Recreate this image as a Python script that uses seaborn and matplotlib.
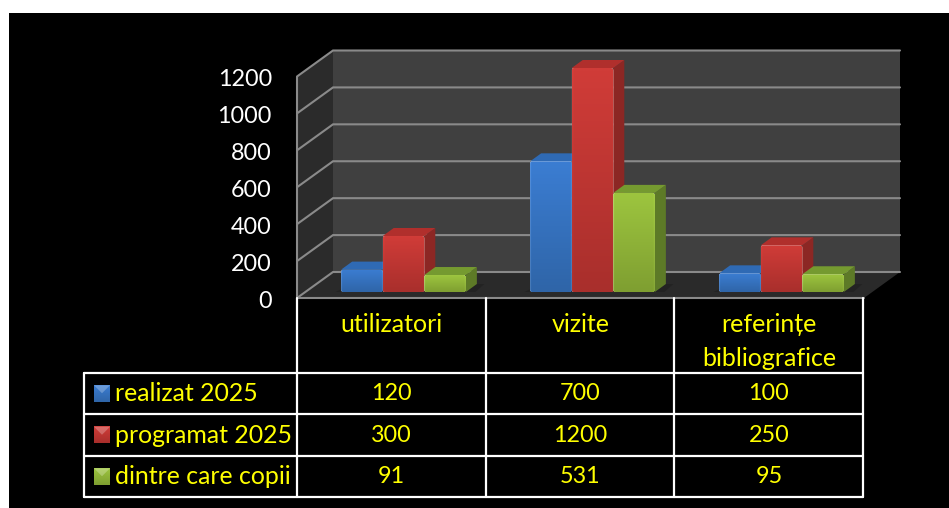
import numpy as np
import pandas as pd
import matplotlib
matplotlib.use('Agg')
import matplotlib.pyplot as plt
import seaborn as sns
from matplotlib.patches import FancyBboxPatch, Polygon, Rectangle

# data
categories = ['utilizatori', 'vizite', 'referințe\nbibliografice']
series_names = ['realizat 2025', 'programat 2025', 'dintre care copii']
realizat = [120, 700, 100]
programat = [300, 1200, 250]
copii = [91, 531, 95]
ticks = [0, 200, 400, 600, 800, 1000, 1200]

# colours: top of front, bottom of front, top face, side face
colors = {
    'realizat 2025': ('#3b7dd2', '#2f65a8', '#2f6ab4', '#2a5a9c'),
    'programat 2025': ('#d03c38', '#a92f2c', '#b02f2c', '#8c2724'),
    'dintre care copii': ('#9dc53f', '#7f9f31', '#759a30', '#5d7a27'),
}

W, H = 949, 508
sns.set_theme(style='white')
plt.rcParams['font.family'] = ['Lato', 'DejaVu Sans']

fig = plt.figure(figsize=(W / 100, H / 100), dpi=100, facecolor='white')

# background layer in pixels
bg = fig.add_axes([0, 0, 1, 1])
bg.set_xlim(0, W)
bg.set_ylim(H, 0)
bg.axis('off')
bg.add_patch(Rectangle((9, 13), W - 9, H - 13, color='black', lw=0))

# walls
fl, fr, fb = 297, 864, 298     # front left, right, bottom
dx, dy = 36, 26                # depth of the box
span = 221.5                   # height of 1200 on the axis
bg.add_patch(Polygon([(fl + dx, fb - dy), (fr + dx, fb - dy), (fr + dx, fb - dy - span), (fl + dx, fb - dy - span)],
                     color='#404040', lw=0))
bg.add_patch(Polygon([(fl, fb), (fl + dx, fb - dy), (fl + dx, fb - dy - span), (fl, fb - span)],
                     color='#2b2b2b', lw=0))
bg.add_patch(Polygon([(fl, fb), (fr, fb), (fr + dx, fb - dy), (fl + dx, fb - dy)],
                     color='#2a2a2a', lw=0))
grid_c = '#8a8a8a'
for t in ticks:
    y = fb - t / 1200 * span
    bg.plot([fl, fl + dx, fr + dx], [y, y - dy, y - dy], color=grid_c, lw=1.5, solid_joinstyle='miter')
    bg.text(272, y + 3.5, str(t), color='white', fontsize=16.8, ha='right', va='center')
bg.plot([fl, fl], [fb, fb - span], color=grid_c, lw=1.5)
bg.plot([fl, fr], [fb, fb], color=grid_c, lw=1.5)

# table
col_x = [297.5, 486, 674.5, 863.5]
row_y = [372.5, 414, 455.5, 497]
for x in col_x:
    bg.plot([x, x], [298, row_y[-1]], color='white', lw=1.6)
for y in row_y:
    bg.plot([84, col_x[-1]], [y, y], color='white', lw=1.6)
bg.plot([84, 84], [row_y[0], row_y[-1]], color='white', lw=1.6)

for c, name in enumerate(categories):
    cx = (col_x[c] + col_x[c + 1]) / 2
    for k, part in enumerate(name.split('\n')):
        bg.text(cx, 325 + k * 33, part, color='#ffff00', fontsize=18, ha='center', va='center')

rows = [realizat, programat, copii]
for r, name in enumerate(series_names):
    cy = (row_y[r] + row_y[r + 1]) / 2
    top_c, bot_c, _, _ = colors[name]
    # legend key with the small bevel
    key = np.linspace(matplotlib.colors.to_rgb(top_c), matplotlib.colors.to_rgb(bot_c), 16)[:, None, :]
    bg.imshow(key, extent=(94, 110, cy + 8.5, cy - 8), aspect='auto', zorder=3)
    bg.add_patch(Polygon([(94, cy - 8), (110, cy - 8), (102, cy)], color='white', alpha=0.25, lw=0, zorder=4))
    bg.text(115, cy + 0.5, name, color='#ffff00', fontsize=17.9, ha='left', va='center')
    for c, v in enumerate(rows[r]):
        cx = (col_x[c] + col_x[c + 1]) / 2
        bg.text(cx, cy + 0.5, str(v), color='#ffff00', fontsize=16.8, ha='center', va='center')
bg.set_xlim(0, W)
bg.set_ylim(H, 0)

# bars, one axes sitting inside the box
base_y = 292
ax_h = 252
ax = fig.add_axes([309 / W, (H - base_y) / H, 567 / W, ax_h / H])
ax.patch.set_alpha(0)

df = pd.DataFrame({
    'cat': categories * 3,
    'serie': [s for s in series_names for _ in categories],
    'val': realizat + programat + copii,
})
palette = {n: colors[n][0] for n in series_names}
sns.barplot(data=df, x='cat', y='val', hue='serie', hue_order=series_names, order=categories,
            palette=palette, width=0.66, gap=0, saturation=1, legend=False, ax=ax)
ax.set_xlim(-0.5, 2.5)
ax.set_ylim(0, 1350)
ax.axis('off')

per_x = 189.0        # px per category
per_y = ax_h / 1350  # px per unit
ox, oy = 11 / per_x, 8 / per_y   # bar depth in data units

for h, (name, cont) in enumerate(zip(series_names, ax.containers)):
    top_c, bot_c, top_face, side_face = colors[name]
    z = 3 + h * 3
    c0 = np.array(matplotlib.colors.to_rgb(top_c))
    c1 = np.array(matplotlib.colors.to_rgb(bot_c))
    for bar in cont:
        x0, w, v = bar.get_x(), bar.get_width(), bar.get_height()
        # floor shadow
        ax.add_patch(Polygon([(x0 - 0.03, 0), (x0 + w + 0.05, 0), (x0 + w + ox + 0.04, oy), (x0 + ox, oy)],
                             color='#232323', lw=0, zorder=2, clip_on=False))
        # side and top
        ax.add_patch(Polygon([(x0 + w, 0), (x0 + w + ox, oy), (x0 + w + ox, v + oy), (x0 + w, v)],
                             color=side_face, lw=0, zorder=z, clip_on=False))
        ax.add_patch(Polygon([(x0, v), (x0 + w, v), (x0 + w + ox, v + oy), (x0 + ox, v + oy)],
                             color=top_face, lw=0, zorder=z + 0.1, clip_on=False))
        # front face with gradient and rounded corners
        clip = FancyBboxPatch((x0, 0), w, v, boxstyle='round,pad=0,rounding_size=0.012',
                              mutation_aspect=per_x / per_y, transform=ax.transData)
        grad = np.linspace(c0, c1, 40)[:, None, :].repeat(30, axis=1)
        edge = np.ones(30)
        edge[:1] = edge[-1:] = 1.04
        grad = np.clip(grad * edge[None, :, None], 0, 1)
        im = ax.imshow(grad, extent=(x0, x0 + w, 0, v), aspect='auto', zorder=z + 0.2, origin='upper')
        im.set_clip_path(clip)
        bar.set_zorder(z + 0.15)
        bar.set_clip_path(clip)

ax.set_xlim(-0.5, 2.5)
ax.set_ylim(0, 1350)

fig.savefig('out.png', dpi=100, facecolor='white')
